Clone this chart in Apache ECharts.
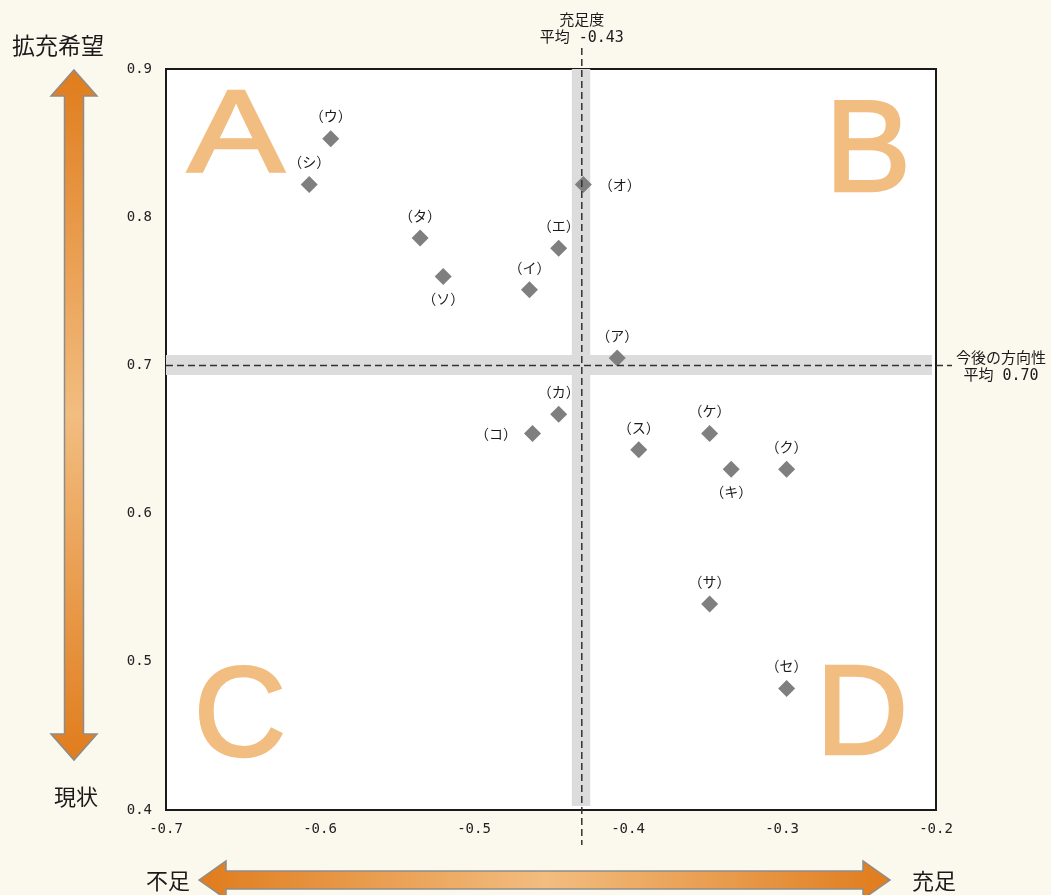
<!DOCTYPE html>
<html>
<head>
<meta charset="utf-8">
<script src="https://cdn.jsdelivr.net/npm/echarts@6/dist/echarts.min.js"></script>
<style>
  html, body { margin: 0; padding: 0; background: #fbf8ed; }
  #main { width: 1051px; height: 895px; }
</style>
</head>
<body>
<div id="main"></div>
<script>
// 項目ごとの 充足度(x) / 今後の方向性(y)
const itemNames = ['（ア）', '（イ）', '（ウ）', '（エ）', '（オ）', '（カ）', '（キ）', '（ク）',
  '（ケ）', '（コ）', '（サ）', '（シ）', '（ス）', '（セ）', '（ソ）', '（タ）'];
const xValues = [-0.407, -0.464, -0.593, -0.445, -0.429, -0.445, -0.333, -0.297,
  -0.347, -0.462, -0.347, -0.607, -0.393, -0.297, -0.520, -0.535];
const yValues = [0.705, 0.751, 0.853, 0.779, 0.822, 0.667, 0.630, 0.630,
  0.654, 0.654, 0.539, 0.822, 0.643, 0.482, 0.760, 0.786];
const labelPos = ['top', 'top', 'top', 'top', 'right', 'top', 'bottom', 'top',
  'top', 'left', 'top', 'top', 'top', 'top', 'bottom', 'top'];

const xMean = -0.43;
const yMean = 0.70;
const xTicks = [-0.7, -0.6, -0.5, -0.4, -0.3, -0.2];
const yTicks = [0.4, 0.5, 0.6, 0.7, 0.8, 0.9];

const jpFont = '"Noto Sans CJK JP", sans-serif';
const numFont = '"DejaVu Sans Mono", "Noto Sans CJK JP", monospace';
const orangeDark = '#e07c1c';
const orangeLight = '#f2bd80';

const myChart = echarts.init(document.getElementById('main'));

const points = [];
for (let i = 0; i < itemNames.length; i++) {
  points.push({
    name: itemNames[i],
    value: [xValues[i], yValues[i]],
    label: { position: labelPos[i] },
  });
}

const option = {
  backgroundColor: '#fbf8ed',
  animation: false,
  grid: {
    left: 166,
    top: 69,
    width: 770,
    height: 741,
    show: true,
    backgroundColor: '#fff',
    borderColor: '#1a1a1a',
    borderWidth: 2,
    z: 0,
  },
  xAxis: {
    type: 'value',
    min: xTicks[0],
    max: xTicks[xTicks.length - 1],
    interval: 0.1,
    axisLine: { show: false },
    axisTick: { show: false },
    splitLine: { show: false },
    axisLabel: {
      margin: 12,
      color: '#222',
      fontSize: 14,
      fontFamily: numFont,
      formatter: (v) => v.toFixed(1),
    },
  },
  yAxis: {
    type: 'value',
    min: yTicks[0],
    max: yTicks[yTicks.length - 1],
    interval: 0.1,
    axisLine: { show: false },
    axisTick: { show: false },
    splitLine: { show: false },
    axisLabel: {
      margin: 14,
      color: '#222',
      fontSize: 14,
      fontFamily: numFont,
      formatter: (v) => v.toFixed(1),
    },
  },
  series: [
    {
      type: 'scatter',
      symbol: 'diamond',
      symbolSize: 17,
      itemStyle: { color: '#7f7f7f', opacity: 1 },
      label: {
        show: true,
        formatter: '{b}',
        distance: 7,
        color: '#1a1a1a',
        fontSize: 14,
        fontFamily: jpFont,
      },
      data: points,
      z: 5,
      // 平均値の帯
      markArea: {
        silent: true,
        itemStyle: { color: '#dcdcdc' },
        data: [
          [{ xAxis: -0.4365, yAxis: 0.4027 }, { xAxis: -0.4245, yAxis: 0.9 }],
          [{ xAxis: -0.7, yAxis: 0.6935 }, { xAxis: -0.2027, yAxis: 0.707 }],
        ],
      },
    },
  ],
};

myChart.setOption(option);

// 平均線・矢印・象限文字は座標変換してから graphic で描く
const mean = myChart.convertToPixel({ gridIndex: 0 }, [xMean, yMean]);
const lo = myChart.convertToPixel({ gridIndex: 0 }, [xTicks[0], yTicks[0]]);
const hi = myChart.convertToPixel({ gridIndex: 0 }, [xTicks[xTicks.length - 1], yTicks[yTicks.length - 1]]);

const dash = { stroke: '#333', lineWidth: 1.5, lineDash: [7, 4] };

const vGrad = new echarts.graphic.LinearGradient(0, 0, 0, 1, [
  { offset: 0, color: orangeDark },
  { offset: 0.5, color: orangeLight },
  { offset: 1, color: orangeDark },
]);
const hGrad = new echarts.graphic.LinearGradient(0, 0, 1, 0, [
  { offset: 0, color: orangeDark },
  { offset: 0.5, color: orangeLight },
  { offset: 1, color: orangeDark },
]);

function letter(text, x, y, size, sx) {
  return {
    type: 'text',
    z: 1,
    silent: true,
    x: x,
    y: y,
    scaleX: sx || 1,
    style: {
      text: text,
      x: 0,
      y: 0,
      fill: orangeLight,
      stroke: orangeLight,
      lineWidth: 2.5,
      font: size + 'px "Liberation Sans", Arial, sans-serif',
      textAlign: 'center',
      textVerticalAlign: 'middle',
    },
  };
}

function label(text, x, y, size, align, family) {
  return {
    type: 'text',
    silent: true,
    style: {
      text: text,
      x: x,
      y: y,
      fill: '#1a1a1a',
      font: size + 'px ' + (family || jpFont),
      textAlign: align || 'center',
      textVerticalAlign: 'middle',
    },
  };
}

myChart.setOption({
  graphic: [
    letter('A', lo[0] + 70, hi[1] + 71, 117, 1.24),
    letter('B', hi[0] - 68, hi[1] + 86, 129),
    letter('C', lo[0] + 74, lo[1] - 89, 128),
    letter('D', hi[0] - 74, lo[1] - 91, 128),
    {
      type: 'line', z: 10, silent: true,
      shape: { x1: mean[0], y1: 48, x2: mean[0], y2: 845 },
      style: dash,
    },
    {
      type: 'line', z: 10, silent: true,
      shape: { x1: lo[0], y1: mean[1], x2: hi[0] + 16, y2: mean[1] },
      style: dash,
    },
    label('充足度', mean[0], 19, 15),
    label('平均 -0.43', mean[0], 38, 15, 'center', numFont),
    label('今後の方向性', 1001, 357, 15),
    label('平均 0.70', 1001, 376, 15, 'center', numFont),
    label('拡充希望', 58, 45, 23),
    label('現状', 76, 797, 22),
    label('不足', 190, 881, 22, 'right'),
    label('充足', 912, 881, 22, 'left'),
    // 縦の両矢印
    {
      type: 'polygon', silent: true,
      shape: {
        points: [[74, 70], [97, 96], [83.5, 96], [83.5, 734], [97, 734], [74, 760],
          [51, 734], [64.5, 734], [64.5, 96], [51, 96]],
      },
      style: { fill: vGrad, stroke: '#8c8c8c', lineWidth: 1.5 },
    },
    // 横の両矢印
    {
      type: 'polygon', silent: true,
      shape: {
        points: [[199, 880], [226, 861], [226, 871], [863, 871], [863, 861], [890, 880],
          [863, 899], [863, 889], [226, 889], [226, 899]],
      },
      style: { fill: hGrad, stroke: '#8c8c8c', lineWidth: 1.5 },
    },
  ],
});
</script>
</body>
</html>
